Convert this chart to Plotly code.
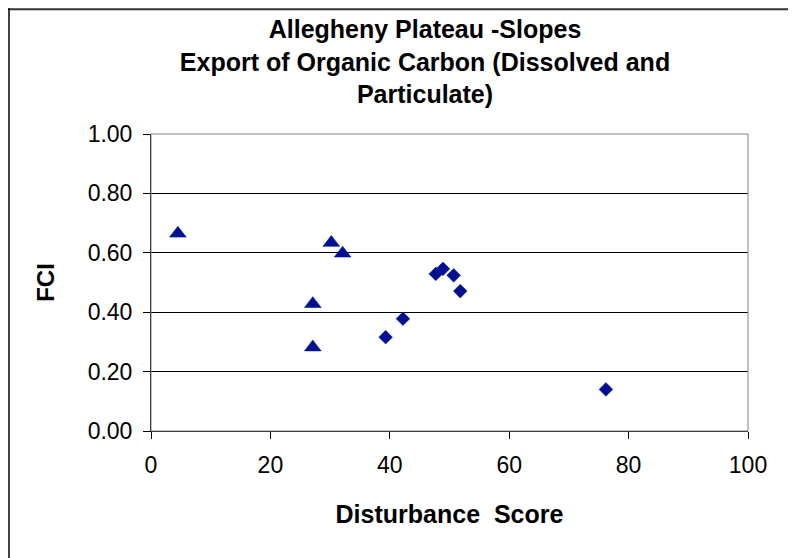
import plotly.graph_objects as go

# Data
tri_x = [4.5, 30.2, 32.1, 27.1, 27.1]
tri_y = [0.665, 0.634, 0.598, 0.428, 0.282]
dia_x = [39.3, 42.2, 47.7, 48.9, 50.7, 51.8, 76.2]
dia_y = [0.316, 0.378, 0.529, 0.546, 0.524, 0.471, 0.140]

x_ticks = [0, 20, 40, 60, 80, 100]
y_ticks = [0.0, 0.2, 0.4, 0.6, 0.8, 1.0]
y_tick_text = ["0.00", "0.20", "0.40", "0.60", "0.80", "1.00"]

title_text = "Allegheny Plateau -Slopes<br>Export of Organic Carbon (Dissolved and<br>Particulate)"
x_title = "Disturbance  Score"
y_title = "FCI"

# page has an 8px body margin, so figure coordinates = screen - 8
W, H = 788, 550
L, R, T, B = 143, 740, 126, 423.5
FONT = "Liberation Sans, Arial, sans-serif"
MARK = "#001090"

fig = go.Figure()
fig.add_trace(go.Scatter(
    x=tri_x, y=tri_y, mode="markers",
    marker=dict(symbol="triangle-up", size=14.5, color=MARK,
                line=dict(width=0.6, color="#0020a0")),
    showlegend=False, cliponaxis=False))
fig.add_trace(go.Scatter(
    x=dia_x, y=dia_y, mode="markers",
    marker=dict(symbol="diamond", size=10.5, color=MARK,
                line=dict(width=0.6, color="#0020a0")),
    showlegend=False, cliponaxis=False))

def px_x(p):
    return (p - L) / (R - L)

def px_y(p):
    return (B - p) / (B - T)

shapes = [
    # plot-area border (gray), drawn over the top gridline
    dict(type="rect", xref="paper", yref="paper", x0=0, x1=1, y0=0, y1=1,
         line=dict(color="#808080", width=1), layer="above"),
    # chart outer border
    dict(type="line", xref="paper", yref="paper", x0=px_x(0), x1=px_x(785),
         y0=px_y(1), y1=px_y(1), line=dict(color="#333333", width=2)),
    dict(type="line", xref="paper", yref="paper", x0=px_x(1), x1=px_x(1),
         y0=px_y(0), y1=px_y(560), line=dict(color="#000000", width=1.5)),
    dict(type="line", xref="paper", yref="paper", x0=px_x(785), x1=px_x(785),
         y0=px_y(0), y1=px_y(560), line=dict(color="#000000", width=1.5)),
]

fig.update_layout(
    width=W, height=H,
    margin=dict(l=L, r=W - R, t=T, b=H - B),
    paper_bgcolor="white", plot_bgcolor="white",
    font=dict(family=FONT, color="black"),
    title=dict(text=title_text, x=417 / W, xanchor="center",
               y=1 - 30 / H, yanchor="middle", yref="container",
               font=dict(family=FONT, size=25, color="black", weight="bold")),
    shapes=shapes,
)
fig.update_xaxes(
    range=[0, 100], tickvals=x_ticks, ticktext=[str(v) for v in x_ticks],
    showgrid=False, zeroline=False, showline=True, linecolor="black", linewidth=1,
    ticks="outside", ticklen=7, tickcolor="black", tickwidth=1,
    ticklabelstandoff=6,
    tickfont=dict(family=FONT, size=23, color="black"),
    title=dict(text=x_title, standoff=28,
               font=dict(family=FONT, size=25, color="black", weight="bold")),
)
fig.update_yaxes(
    range=[0, 1], tickvals=y_ticks, ticktext=y_tick_text,
    showgrid=True, gridcolor="black", gridwidth=1,
    zeroline=False, showline=True, linecolor="black", linewidth=1,
    ticks="outside", ticklen=7, tickcolor="black", tickwidth=1,
    ticklabelstandoff=6,
    tickfont=dict(family=FONT, size=23, color="black"),
    title=dict(text=y_title, standoff=26,
               font=dict(family=FONT, size=24, color="black", weight="bold")),
)

fig.write_html("out.html")
